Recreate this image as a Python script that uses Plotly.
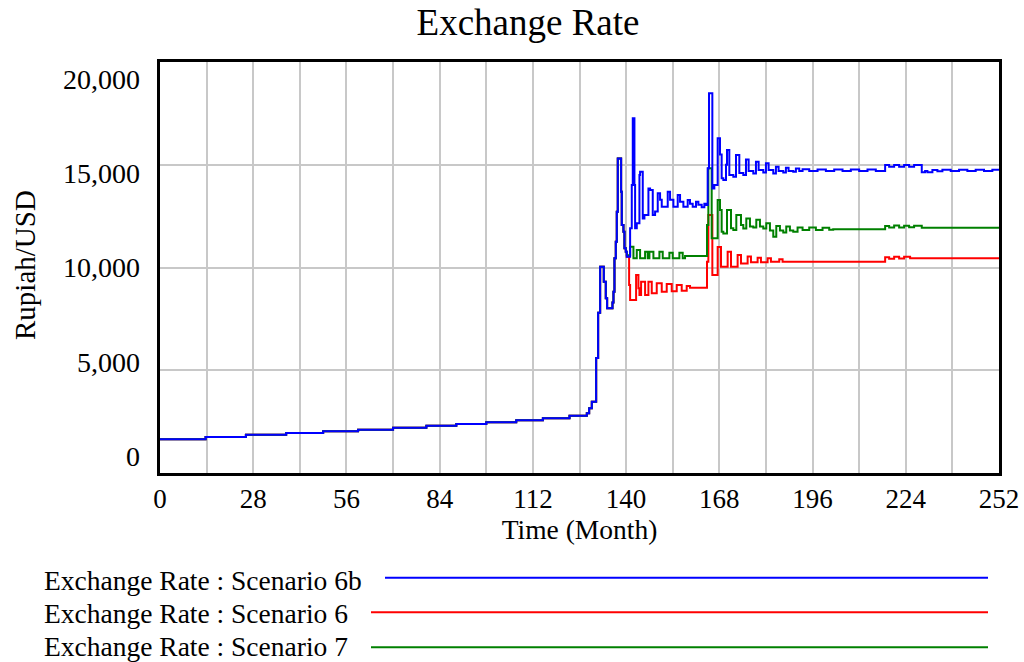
import plotly.graph_objects as go

# ---------------- data (months, Rupiah/USD) ----------------
# shared history (all scenarios identical until ~month 140)
t_shared = [0, 13.7, 25.8, 37.9, 49, 59.5, 70, 80, 89, 98, 107, 115, 123,
            128.2, 128.9, 129.7, 131, 131.6, 132.2, 133.3, 133.9, 134.3, 135.9,
            136.2, 136.5, 136.9, 137.2, 137.5, 138.5, 138.7, 139.2, 139.5, 139.9]
v_shared = [1640, 1750, 1865, 1945, 2030, 2110, 2205, 2305, 2385, 2465, 2565, 2660, 2790,
            2905, 3150, 3470, 5600, 7800, 10040, 9310, 8500, 8015, 8300,
            8820, 10450, 11255, 12715, 15300, 13690, 12070, 11740, 10935, 10770]

# Scenario 6b (blue)
t_6b = [140.2, 141.2, 141.7, 142.0, 142.5, 142.7, 143.2, 144.0, 144.2, 145.0, 145.5,
        146.7, 147.2, 148.0, 148.7, 149.5, 150.2, 150.7, 152.5, 153.2, 154.2, 155.5,
        156.2, 157.2, 158.5, 159.2, 160, 161, 161.7, 162.7, 163.5, 164.0, 164.5, 164.9,
        165.9, 166.5, 167.5, 168.2, 168.7, 169.2, 170.0, 170.3, 171.0, 172.2, 173.0,
        174.0, 175.2, 176.0, 176.8, 178.2, 179.0, 179.8, 181.2, 182.0, 182.8, 184.2,
        185.0, 185.8, 187.2, 188.0, 188.8, 190.2, 191.0, 192, 193, 195, 197.5, 200,
        202.5, 205, 207.5, 210, 212.5, 215, 217.8, 219, 220.5, 222, 223.5, 225, 226.5,
        228.8, 229.8, 230.5, 232, 233.5, 235, 237.5, 240, 242.5, 245, 247.5, 250, 252]
v_6b = [10525, 11910, 14010, 17260, 14010, 11910, 12150, 14500, 14660, 12390, 12550,
        13850, 13770, 12550, 12720, 13610, 13300, 12960, 13690, 13300, 12960, 13530,
        13200, 12960, 13280, 13100, 12960, 13200, 13050, 12930, 13100, 13040, 14830, 18480,
        13850, 14010, 16290, 15500, 14340, 14260, 15000, 15720, 14500, 14420, 15470,
        14600, 14500, 15260, 14700, 14580, 15150, 14750, 14620, 15070, 14750, 14580,
        14900, 14700, 14620, 14850, 14700, 14660, 14820, 14700, 14780, 14700, 14770, 14700,
        14770, 14700, 14770, 14700, 14770, 14700, 14990, 14900, 14990, 14900, 14990, 14900, 14990,
        14630, 14700, 14630, 14740, 14680, 14760, 14690, 14760, 14700, 14760, 14700, 14760, 14760]

# Scenario 6 (red)
t_6 = [140.2, 140.9, 141.2, 143.0, 143.7, 144.0, 144.5, 145.7, 146.7, 147.7, 149.2,
       150.7, 152.2, 153.7, 155.2, 156.7, 158.2, 159.2, 164.3, 164.7, 165.9, 167.5,
       168.5, 170.5, 171.5, 173.5, 174.5, 176.5, 177.5, 179.5, 180.5, 182.5, 183.5,
       186, 187, 217.8, 219, 220.5, 222, 223.5, 225.3, 252]
v_6 = [10525, 9150, 8420, 9630, 8990, 8660, 9310, 8660, 9310, 8745, 9230,
       8820, 9200, 8850, 9150, 8870, 9100, 9020, 10280, 12550, 9630, 11000,
       10040, 10770, 10040, 10610, 10200, 10530, 10250, 10480, 10250, 10450, 10280,
       10400, 10280, 10500, 10430, 10525, 10440, 10525, 10450, 10450]

# Scenario 7 (green)
t_7 = [140.2, 141.2, 142.2, 143.2, 144.2, 145.7, 146.5, 147.0, 148.2, 150.0, 151.0,
       153.0, 154.0, 156.0, 157.0, 157.7, 164.3, 164.7, 165.7, 167.5, 168.2, 168.7,
       169.2, 170.3, 171.5, 172.2, 173.1, 174.5, 175.2, 176.1, 177.2, 178.2, 179.1,
       180.2, 181.2, 182.1, 183.2, 184.2, 185.1, 186.2, 187.2, 188.1, 189.2, 190.2,
       191.5, 193, 195, 197, 199, 201, 202.2, 217.8, 219, 220.5, 222, 223.5, 225,
       226.5, 228.8, 252]
v_7 = [10600, 11010, 10450, 10850, 10450, 10770, 10450, 10770, 10450, 10770, 10450,
       10720, 10450, 10720, 10450, 10560, 12070, 14830, 11420, 13280, 12800, 11740,
       11660, 12800, 11910, 11820, 12550, 12070, 11900, 12390, 11990, 11950, 12320,
       12000, 11900, 12150, 11800, 11500, 12020, 11800, 11700, 11990, 11800, 11740,
       11950, 11820, 11950, 11830, 11930, 11840, 11860, 12020, 11950, 12040, 11950, 12030, 11960,
       12030, 11940, 11940]

series = [
    ("Exchange Rate : Scenario 6", t_6, v_6, "#ff0000"),
    ("Exchange Rate : Scenario 7", t_7, v_7, "#008000"),
    ("Exchange Rate : Scenario 6b", t_6b, v_6b, "#0000ff"),
]
legend_order = ["Exchange Rate : Scenario 6b", "Exchange Rate : Scenario 6",
                "Exchange Rate : Scenario 7"]
color_of = {s[0]: s[3] for s in series}

x_ticks = list(range(0, 253, 28))
y_tickvals = [0, 5000, 10000, 15000, 20000]
y_ticktext = ["0", "5,000", "10,000", "15,000", "20,000"]

# ---------------- figure ----------------
W, H = 1024, 662
L, R, T, B = 160, 999, 62, 473
FONT = "Liberation Serif"

fig = go.Figure()
for name, t, v, col in series:
    fig.add_trace(go.Scatter(x=t_shared + t, y=v_shared + v, mode="lines", name=name,
                             line=dict(color=col, width=2, shape="hv"),
                             showlegend=False))
# helper (empty) trace so the label axis is drawn
fig.add_trace(go.Scatter(x=[None], y=[None], yaxis="y2", showlegend=False, hoverinfo="skip"))

grid = "#c8c8c8"
fig.update_layout(
    width=W, height=H,
    margin=dict(l=L, r=W - R, t=T, b=H - B),
    paper_bgcolor="white", plot_bgcolor="white",
    font=dict(family=FONT, size=28, color="black"),
    title=dict(text="Exchange Rate", x=528 / W, xanchor="center",
               y=1 - 22 / H, yanchor="middle", font=dict(size=37)),
    xaxis=dict(range=[0, 252], tickvals=x_ticks, showgrid=True, gridcolor=grid, gridwidth=1.5,
               minor=dict(dtick=14, tick0=0, showgrid=True, gridcolor=grid, gridwidth=1.5),
               showline=True, linewidth=3, linecolor="black", mirror=True, zeroline=False,
               ticks="", tickfont=dict(size=27), automargin=False,
               title=dict(text="Time (Month)", standoff=6, font=dict(size=27.5))),
    yaxis=dict(range=[0, 20000], dtick=5000, showgrid=True, gridcolor=grid, gridwidth=1.5,
               showline=True, linewidth=3, linecolor="black", mirror=True, zeroline=False,
               showticklabels=False, ticks="", automargin=False),
    yaxis2=dict(overlaying="y", side="left", range=[-902, 20902], tickvals=y_tickvals,
                ticktext=y_ticktext, showgrid=False, showline=False, zeroline=False,
                ticks="", ticklabelstandoff=19, automargin=False),
)

def px_x(px):
    return (px - L) / (R - L)

def px_y(py):
    return (B - py) / (B - T)

fig.add_annotation(text="Rupiah/USD", textangle=-90, xref="paper", yref="paper",
                   x=px_x(25), y=px_y(265), showarrow=False, xanchor="center", yanchor="middle",
                   font=dict(size=29))

rows_text_y = [580, 613, 646.5]
rows_line_y = [577.7, 612.3, 647.3]
line_start = [385, 371, 371]
for name, ty, ly, ls in zip(legend_order, rows_text_y, rows_line_y, line_start):
    fig.add_annotation(text=name, xref="paper", yref="paper", x=px_x(42), y=px_y(ty),
                       xanchor="left", yanchor="middle", showarrow=False, font=dict(size=27.5))
    fig.add_shape(type="line", xref="paper", yref="paper", x0=px_x(ls), x1=px_x(988),
                  y0=px_y(ly), y1=px_y(ly), line=dict(color=color_of[name], width=2))

fig.write_html("out.html", config={"displayModeBar": False},
               post_script="document.body.style.margin='0';document.body.style.overflow='hidden';")
